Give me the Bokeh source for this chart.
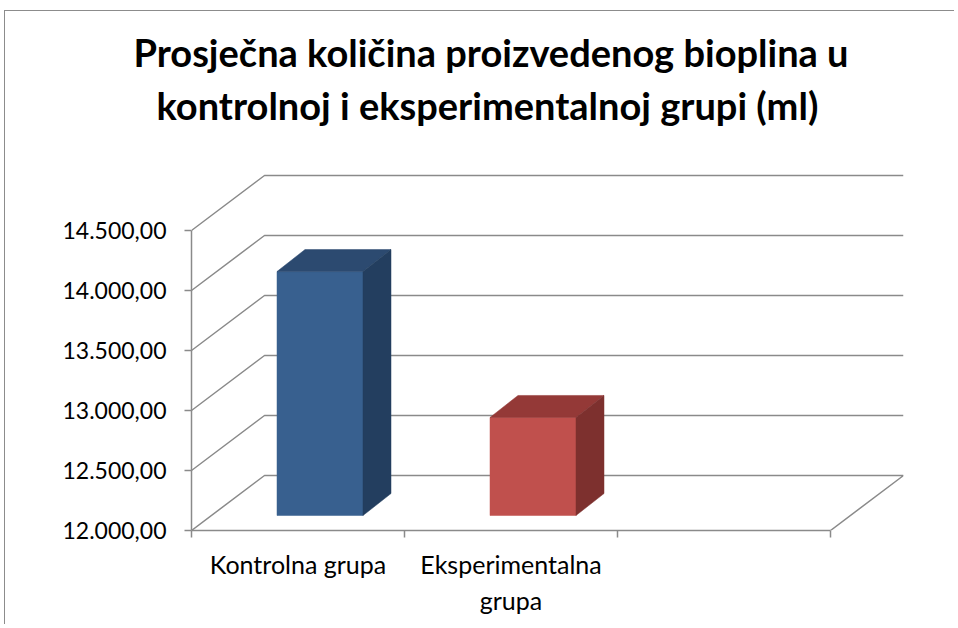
from bokeh.plotting import figure
from bokeh.models import Range1d, LinearAxis, FixedTicker, Title
from bokeh.embed import file_html
from bokeh.resources import INLINE

# ---------------- data ----------------
categories = ["Kontrolna grupa", "Eksperimentalna\ngrupa"]
values = [14033, 12817]
n_slots = 3
y_ticks = [12000, 12500, 13000, 13500, 14000, 14500]
y_tick_labels = ["12.000,00", "12.500,00", "13.000,00", "13.500,00", "14.000,00", "14.500,00"]
front_colors = ["#38608F", "#C0504D"]
top_colors = ["#2C4A70", "#943937"]
side_colors = ["#233E5F", "#7D302E"]
title_lines = ["Prosječna količina proizvedenog bioplina u",
               "kontrolnoj i eksperimentalnoj grupi (ml)"]

# ---------------- layout (pixels) ----------------
W, H = 950, 614
OX, OY = 5, 11                      # canvas origin inside the window
frame_l, frame_r = 191 - OX, 903 - OX
frame_t, frame_b = 132 - OY, 530 - OY
PX_CAT = 213.0                      # px per category slot
PX_VAL = 0.12                       # px per value unit
WALL = (73, 55)                     # depth of the back wall (px)
BAR_OFF = (22, 15)                  # bar front-face depth offset (px)
BAR_D = (28, 22)                    # bar depth (px)
BAR_W = 86                          # bar width (px)
GRID = "#8a8a8a"

y0 = y_ticks[0]
x_span = (frame_r - frame_l) / PX_CAT
y_span = (frame_b - frame_t) / PX_VAL

p = figure(width=W, height=H, x_range=Range1d(0, x_span), y_range=Range1d(y0, y0 + y_span),
           output_backend="svg", toolbar_location=None, x_axis_type=None, y_axis_type=None,
           min_border_left=frame_l, min_border_right=W - frame_r,
           min_border_top=frame_t, min_border_bottom=H - frame_b)
p.outline_line_color = None
p.xgrid.visible = False
p.ygrid.visible = False
p.background_fill_color = "white"
p.border_fill_color = "white"
p.styles = {"border-left": "1px solid #8c8c8c", "border-top": "1px solid #8c8c8c",
            "margin-left": "4px", "margin-top": "10px"}

# ---------------- walls / gridlines ----------------
ddx = WALL[0] / PX_CAT
ddy = WALL[1] / PX_VAL
gxs, gys = [], []
for v in y_ticks:
    xs = [0, ddx, n_slots + ddx]
    ys = [v, v + ddy, v + ddy]
    if v == y0:
        xs.append(n_slots)
        ys.append(y0)
    gxs.append(xs)
    gys.append(ys)
p.multi_line(gxs, gys, line_color=GRID, line_width=1.5)

# ---------------- 3D bars ----------------
bx = BAR_D[0] / PX_CAT
by = BAR_D[1] / PX_VAL
oxu = BAR_OFF[0] / PX_CAT
oyu = BAR_OFF[1] / PX_VAL
wu = BAR_W / PX_CAT
pxs, pys, pcol = [], [], []
for i, v in enumerate(values):
    fx0 = i + 0.5 - wu / 2 + oxu
    fx1 = fx0 + wu
    fy0 = y0 + oyu
    fy1 = v + oyu
    pxs.append([fx0, fx1, fx1, fx0]); pys.append([fy0, fy0, fy1, fy1]); pcol.append(front_colors[i])
    pxs.append([fx0, fx1, fx1 + bx, fx0 + bx]); pys.append([fy1, fy1, fy1 + by, fy1 + by]); pcol.append(top_colors[i])
    pxs.append([fx1, fx1 + bx, fx1 + bx, fx1]); pys.append([fy0, fy0 + by, fy1 + by, fy1]); pcol.append(side_colors[i])
p.patches(pxs, pys, fill_color=pcol, line_color=pcol, line_width=0.5)

# ---------------- axes ----------------
yaxis = LinearAxis(ticker=FixedTicker(ticks=y_ticks, minor_ticks=[]),
                   major_label_overrides={float(t): l for t, l in zip(y_ticks, y_tick_labels)},
                   bounds=(y0, y_ticks[-1]))
yaxis.axis_line_color = GRID
yaxis.axis_line_width = 1.5
yaxis.major_tick_line_color = GRID
yaxis.major_tick_line_width = 1.5
yaxis.major_tick_out = 7
yaxis.major_tick_in = 0
yaxis.minor_tick_line_color = None
yaxis.major_label_standoff = 18
yaxis.major_label_text_font = "Lato"
yaxis.major_label_text_font_size = "23px"
yaxis.major_label_text_color = "black"
p.add_layout(yaxis, "left")

xaxis = LinearAxis(ticker=FixedTicker(ticks=[i + 0.5 for i in range(len(categories))],
                                      minor_ticks=list(range(n_slots + 1))),
                   major_label_overrides={i + 0.5: c for i, c in enumerate(categories)},
                   bounds=(0, n_slots))
xaxis.axis_line_color = GRID
xaxis.axis_line_width = 1.5
xaxis.major_tick_line_color = None
xaxis.major_tick_out = 0
xaxis.major_tick_in = 0
xaxis.minor_tick_line_color = GRID
xaxis.minor_tick_line_width = 1.5
xaxis.minor_tick_out = 7
xaxis.minor_tick_in = 0
xaxis.major_label_standoff = 11
xaxis.major_label_text_font = "Lato"
xaxis.major_label_text_font_size = "25px"
xaxis.major_label_text_color = "black"
xaxis.major_label_text_line_height = 1.2
p.add_layout(xaxis, "below")

# ---------------- title (two lines; nearest the frame first) ----------------
p.title.visible = False
title_offsets = [-58, -35]
title_standoffs = [0, 10]
for line, off, so in reversed(list(zip(title_lines, title_offsets, title_standoffs))):
    p.add_layout(Title(text=line, align="left", offset=off, standoff=so, text_font="Lato",
                       text_font_style="bold", text_font_size="38px", text_color="black"), "above")

open("out.html", "w").write(file_html(p, INLINE))
